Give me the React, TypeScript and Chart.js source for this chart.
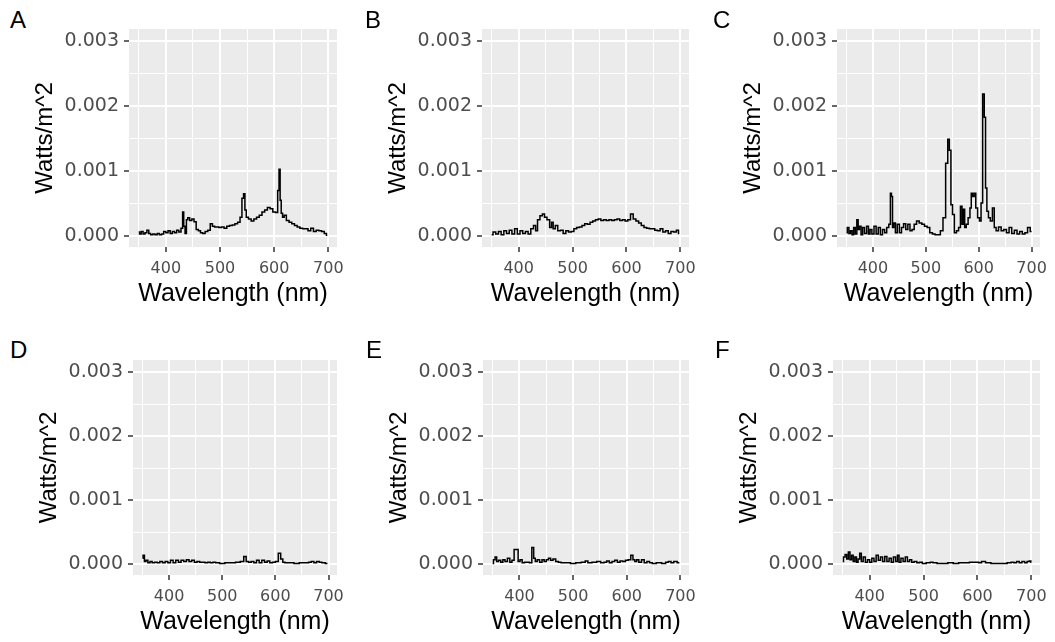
import React, { useEffect, useRef } from "react";
import { Chart, registerables } from "chart.js";

Chart.register(...registerables);

// ---------- data ----------
const WL_TICKS = [350, 400, 450, 500, 550, 600, 650, 700];
const WL_LABELED = [400, 500, 600, 700];
const W_TICKS = [0, 0.0005, 0.001, 0.0015, 0.002, 0.0025, 0.003];
const W_LABELED = [0, 0.001, 0.002, 0.003];
const PANEL_LABELS = ["A", "B", "C", "D", "E", "F"];
const X_TITLE = "Wavelength (nm)";
const Y_TITLE = "Watts/m^2";

// [wavelength nm, irradiance W/m^2]
const spectrumA: [number, number][] = [
  [350, 6e-5], [353, 3e-5], [356, 7e-5], [360, 3e-5], [363, 5e-5], [367, 9e-5], [370, 4e-5], [374, 2e-5],
  [378, 3e-5], [382, 2e-5], [386, 4e-5], [390, 2e-5], [394, 3e-5], [398, 7e-5], [402, 5e-5], [406, 8e-5],
  [410, 4e-5], [414, 7e-5], [418, 5e-5], [422, 9e-5], [426, 6e-5], [430, 1.2e-4], [432, 3.7e-4], [434, 1.5e-4],
  [437, 4e-5], [439, 2.5e-4], [442, 2.8e-4], [446, 2.4e-4], [450, 2.6e-4], [454, 2.2e-4], [458, 1.0e-4], [462, 8e-5],
  [466, 5e-5], [470, 4e-5], [475, 7e-5], [480, 9e-5], [484, 1.9e-4], [488, 1.5e-4], [492, 1.4e-4], [496, 1.4e-4],
  [500, 1.3e-4], [505, 1.4e-4], [510, 1.2e-4], [515, 1.5e-4], [520, 1.6e-4], [525, 1.7e-4], [530, 1.9e-4], [535, 2.1e-4],
  [539, 2.9e-4], [542, 5.8e-4], [545, 6.5e-4], [547, 4.0e-4], [550, 2.9e-4], [555, 2.6e-4], [560, 2.3e-4], [565, 2.6e-4],
  [570, 2.9e-4], [575, 3.2e-4], [580, 3.7e-4], [585, 4.0e-4], [590, 4.4e-4], [595, 4.2e-4], [600, 3.7e-4], [605, 3.6e-4],
  [608, 7.0e-4], [610, 1.03e-3], [612, 5.5e-4], [614, 3.5e-4], [617, 2.9e-4], [620, 3.2e-4], [625, 2.4e-4], [630, 2.1e-4],
  [635, 1.9e-4], [640, 1.6e-4], [645, 1.4e-4], [650, 1.2e-4], [655, 1.1e-4], [660, 1.1e-4], [665, 8e-5], [670, 1.2e-4],
  [675, 7e-5], [680, 9e-5], [685, 8e-5], [690, 7e-5], [695, 4e-5], [698, 1e-5],
];

const spectrumB: [number, number][] = [
  [350, 2e-5], [355, 6e-5], [360, 3e-5], [365, 7e-5], [370, 2e-5], [375, 8e-5], [380, 4e-5], [385, 9e-5],
  [390, 3e-5], [395, 1.1e-4], [400, 3e-5], [405, 8e-5], [410, 4e-5], [415, 7e-5], [420, 3e-5], [425, 1.1e-4],
  [430, 1.6e-4], [433, 8e-5], [437, 2.5e-4], [442, 3.1e-4], [446, 3.4e-4], [450, 2.9e-4], [455, 2.5e-4], [460, 1.3e-4],
  [462, 2.1e-4], [466, 1.1e-4], [470, 1.6e-4], [475, 8e-5], [480, 9e-5], [485, 4e-5], [490, 8e-5], [495, 6e-5],
  [500, 7e-5], [505, 1.1e-4], [510, 1.3e-4], [515, 1.4e-4], [520, 1.6e-4], [525, 1.9e-4], [530, 1.8e-4], [535, 2.1e-4],
  [540, 2.3e-4], [545, 2.5e-4], [550, 2.6e-4], [555, 2.4e-4], [560, 2.5e-4], [565, 2.4e-4], [570, 2.5e-4], [575, 2.4e-4],
  [580, 2.5e-4], [585, 2.6e-4], [590, 2.4e-4], [595, 2.5e-4], [600, 2.3e-4], [605, 2.5e-4], [610, 3.4e-4], [615, 2.6e-4],
  [620, 2.3e-4], [625, 2.0e-4], [630, 1.6e-4], [635, 1.3e-4], [640, 1.2e-4], [645, 1.1e-4], [650, 1.1e-4], [655, 9e-5],
  [660, 8e-5], [665, 1.1e-4], [670, 6e-5], [675, 8e-5], [680, 4e-5], [685, 7e-5], [690, 6e-5], [695, 9e-5], [698, 4e-5],
];

const spectrumC: [number, number][] = [
  [350, 5e-5], [353, 1.3e-4], [356, 4e-5], [359, 8e-5], [362, 2e-5], [365, 1.3e-4], [368, 3e-5], [371, 2.5e-4],
  [373, 1e-4], [376, 1.5e-4], [379, 2e-5], [382, 1.3e-4], [386, 4e-5], [390, 1.5e-4], [393, 3e-5], [396, 1e-4],
  [400, 3e-5], [404, 1.5e-4], [408, 3e-5], [412, 1.3e-4], [416, 2e-5], [420, 1e-4], [424, 5e-5], [428, 1.3e-4],
  [432, 1.8e-4], [434, 6.6e-4], [436, 6.1e-4], [438, 1.3e-4], [441, 2e-4], [444, 5e-5], [448, 1.8e-4], [452, 5e-5],
  [456, 1.3e-4], [460, 1.9e-4], [464, 1e-4], [468, 1.8e-4], [472, 8e-5], [476, 1e-4], [480, 1.8e-4], [485, 2.3e-4],
  [490, 2e-4], [495, 1.8e-4], [500, 1.5e-4], [505, 1.3e-4], [510, 5e-5], [515, 3e-5], [520, 2e-5], [525, 2e-5],
  [530, 8e-5], [535, 2.8e-4], [540, 1.12e-3], [543, 1.49e-3], [546, 1.32e-3], [549, 4.8e-4], [552, 3.3e-4], [556, 5e-5],
  [560, 8e-5], [564, 1.3e-4], [567, 4.6e-4], [570, 1.8e-4], [572, 4.1e-4], [575, 1.3e-4], [578, 1.8e-4], [582, 2.8e-4],
  [585, 4.3e-4], [587, 6.6e-4], [590, 6.1e-4], [593, 6.6e-4], [596, 4.3e-4], [600, 2.8e-4], [603, 2.3e-4], [606, 5.1e-4],
  [609, 2.19e-3], [612, 1.83e-3], [614, 7.4e-4], [617, 3.8e-4], [620, 2.8e-4], [624, 2.3e-4], [628, 4.3e-4], [631, 1.3e-4],
  [635, 8e-5], [640, 1.4e-4], [645, 8e-5], [650, 1e-4], [655, 5e-5], [660, 1.3e-4], [665, 4e-5], [670, 9e-5],
  [675, 3e-5], [680, 7e-5], [685, 3e-5], [690, 5e-5], [695, 1.3e-4], [700, 7e-5],
];

const spectrumD: [number, number][] = [
  [350, 9e-5], [352, 1.4e-4], [355, 4e-5], [358, 6e-5], [362, 2e-5], [366, 4e-5], [370, 2e-5], [375, 3e-5],
  [380, 2e-5], [385, 4e-5], [390, 2e-5], [395, 4e-5], [400, 2e-5], [405, 6e-5], [410, 2e-5], [415, 6e-5],
  [420, 3e-5], [425, 6e-5], [430, 4e-5], [435, 7e-5], [440, 4e-5], [445, 6e-5], [450, 3e-5], [455, 4e-5],
  [460, 3e-5], [465, 3e-5], [470, 2e-5], [475, 3e-5], [480, 2e-5], [485, 3e-5], [490, 2e-5], [500, 1e-5],
  [510, 2e-5], [520, 2e-5], [530, 3e-5], [538, 4e-5], [543, 1.2e-4], [547, 4e-5], [552, 3e-5], [557, 4e-5],
  [562, 2e-5], [567, 6e-5], [572, 2e-5], [577, 6e-5], [582, 3e-5], [587, 5e-5], [592, 2e-5], [597, 3e-5],
  [603, 4e-5], [608, 1.7e-4], [612, 8e-5], [616, 3e-5], [620, 2e-5], [630, 2e-5], [640, 1e-5], [650, 2e-5],
  [660, 2e-5], [665, 3e-5], [670, 4e-5], [675, 2e-5], [680, 4e-5], [685, 3e-5], [690, 2e-5], [698, 1e-5],
];

const spectrumE: [number, number][] = [
  [350, 1e-5], [353, 7e-5], [356, 1.1e-4], [359, 4e-5], [363, 6e-5], [367, 3e-5], [371, 7e-5], [375, 4e-5],
  [380, 9e-5], [384, 3e-5], [388, 6e-5], [392, 2.3e-4], [396, 2.3e-4], [399, 4e-5], [403, 7e-5], [407, 2e-5],
  [412, 3e-5], [416, 3e-5], [421, 2e-5], [425, 2.6e-4], [428, 9e-5], [431, 4e-5], [435, 7e-5], [440, 3e-5],
  [444, 7e-5], [448, 4e-5], [452, 7e-5], [456, 9e-5], [460, 6e-5], [465, 8e-5], [470, 4e-5], [475, 3e-5],
  [480, 2e-5], [490, 2e-5], [500, 1e-5], [510, 2e-5], [520, 3e-5], [525, 5e-5], [530, 2e-5], [540, 3e-5],
  [548, 4e-5], [555, 2e-5], [560, 3e-5], [565, 5e-5], [570, 2e-5], [575, 4e-5], [580, 6e-5], [585, 3e-5],
  [590, 5e-5], [595, 4e-5], [600, 6e-5], [605, 7e-5], [610, 1.4e-4], [613, 7e-5], [617, 4e-5], [620, 7e-5],
  [625, 3e-5], [630, 7e-5], [635, 2e-5], [640, 4e-5], [645, 2e-5], [650, 1e-5], [660, 2e-5], [670, 1e-5],
  [675, 3e-5], [680, 4e-5], [685, 2e-5], [690, 4e-5], [698, 2e-5],
];

const spectrumF: [number, number][] = [
  [350, 4e-5], [353, 1.1e-4], [356, 1.5e-4], [359, 8e-5], [362, 1.9e-4], [365, 7e-5], [368, 1.4e-4], [371, 4e-5],
  [374, 1.1e-4], [377, 3e-5], [380, 8e-5], [383, 1.7e-4], [386, 4e-5], [390, 1.1e-4], [394, 3e-5], [398, 7e-5],
  [402, 3e-5], [406, 9e-5], [410, 4e-5], [414, 1.4e-4], [418, 6e-5], [422, 1.1e-4], [426, 4e-5], [430, 1.2e-4],
  [434, 4e-5], [438, 9e-5], [442, 3e-5], [446, 1.1e-4], [450, 4e-5], [453, 1.4e-4], [456, 3e-5], [460, 9e-5],
  [464, 4e-5], [468, 1.1e-4], [472, 4e-5], [476, 7e-5], [480, 3e-5], [485, 4e-5], [490, 2e-5], [495, 3e-5],
  [500, 1e-5], [510, 2e-5], [515, 3e-5], [520, 2e-5], [530, 1e-5], [540, 1e-5], [550, 2e-5], [560, 1e-5],
  [570, 2e-5], [580, 2e-5], [590, 3e-5], [600, 3e-5], [605, 2e-5], [610, 4e-5], [620, 2e-5], [630, 1e-5],
  [640, 1e-5], [650, 1e-5], [660, 2e-5], [665, 3e-5], [670, 2e-5], [675, 4e-5], [680, 2e-5], [685, 4e-5],
  [690, 2e-5], [694, 4e-5], [698, 5e-5], [700, 3e-5],
];

const SPECTRA = [spectrumA, spectrumB, spectrumC, spectrumD, spectrumE, spectrumF];

// ---------- layout / style ----------
const X_MIN = 332;
const X_MAX = 716;
const Y_MIN = -0.00017;
const Y_MAX = 0.00319;

// plot-area rectangles of each panel (px)
const AREAS = [
  { l: 129, r: 337, t: 29, b: 247 },
  { l: 482, r: 689, t: 29, b: 247 },
  { l: 837, r: 1040, t: 29, b: 247 },
  { l: 133, r: 337, t: 360, b: 575 },
  { l: 483, r: 689, t: 360, b: 575 },
  { l: 833, r: 1040, t: 360, b: 575 },
];
const LABEL_POS = [
  { x: 10, y: 12 },
  { x: 365, y: 12 },
  { x: 713, y: 12 },
  { x: 10, y: 342 },
  { x: 366, y: 342 },
  { x: 715, y: 342 },
];

const Y_AXIS_W = 98;
const X_AXIS_H = 62;
const PAD_T = 20;
const PAD_R = 20;

const TICK_FONT = "'DejaVu Sans', 'Liberation Sans', sans-serif";
const TITLE_FONT = "'Liberation Sans', Arial, sans-serif";

const near = (list: number[], v: number, eps: number) => list.some((m) => Math.abs(m - v) < eps);

const bgPlugin = {
  id: "panelBg",
  beforeDraw(chart: any) {
    const { ctx, chartArea: a } = chart;
    ctx.save();
    ctx.fillStyle = "#EBEBEB";
    ctx.fillRect(a.left, a.top, a.right - a.left, a.bottom - a.top);
    ctx.restore();
  },
};

function Panel({ idx }: { idx: number }) {
  const ref = useRef<HTMLCanvasElement>(null);
  const area = AREAS[idx];
  const left = area.l - Y_AXIS_W;
  const top = area.t - PAD_T;
  const w = area.r - area.l + Y_AXIS_W + PAD_R;
  const h = area.b - area.t + PAD_T + X_AXIS_H;

  useEffect(() => {
    if (!ref.current) return;
    const data = SPECTRA[idx].map(([x, y]) => ({ x, y }));
    const chart = new Chart(ref.current, {
      type: "line",
      data: {
        datasets: [
          {
            data,
            borderColor: "#000000",
            borderWidth: 1.5,
            pointRadius: 0,
            tension: 0,
            stepped: "middle",
            fill: false,
          },
        ],
      },
      options: {
        animation: false,
        responsive: false,
        devicePixelRatio: 1,
        layout: { padding: { top: PAD_T, right: PAD_R, left: 0, bottom: 0 } },
        plugins: { legend: { display: false }, tooltip: { enabled: false }, title: { display: false } },
        scales: {
          x: {
            type: "linear",
            min: X_MIN,
            max: X_MAX,
            afterBuildTicks: (scale: any) => {
              scale.ticks = WL_TICKS.map((v) => ({ value: v }));
            },
            afterFit: (scale: any) => {
              scale.height = X_AXIS_H;
            },
            border: { display: false },
            grid: {
              color: "#FFFFFF",
              lineWidth: (c: any) => (near(WL_LABELED, c.tick?.value, 0.01) ? 2 : 1),
              tickColor: (c: any) => (near(WL_LABELED, c.tick?.value, 0.01) ? "#333333" : "rgba(0,0,0,0)"),
              tickLength: 5,
              tickWidth: 1.5,
            },
            ticks: {
              autoSkip: false,
              maxRotation: 0,
              minRotation: 0,
              padding: 7,
              color: "#4D4D4D",
              font: { family: TICK_FONT, size: 16 },
              callback: (v: any) => (near(WL_LABELED, Number(v), 0.01) ? String(v) : ""),
            },
            title: {
              display: true,
              text: X_TITLE,
              color: "#000000",
              font: { family: TITLE_FONT, size: 25 },
              padding: 0,
            },
          },
          y: {
            type: "linear",
            min: Y_MIN,
            max: Y_MAX,
            afterBuildTicks: (scale: any) => {
              scale.ticks = W_TICKS.map((v) => ({ value: v }));
            },
            afterFit: (scale: any) => {
              scale.width = Y_AXIS_W;
            },
            border: { display: false },
            grid: {
              color: "#FFFFFF",
              lineWidth: (c: any) => (near(W_LABELED, c.tick?.value, 1e-7) ? 2 : 1),
              tickColor: (c: any) => (near(W_LABELED, c.tick?.value, 1e-7) ? "#333333" : "rgba(0,0,0,0)"),
              tickLength: 5,
              tickWidth: 1.5,
            },
            ticks: {
              autoSkip: false,
              padding: 5,
              color: "#4D4D4D",
              font: { family: TICK_FONT, size: 19 },
              callback: (v: any) => (near(W_LABELED, Number(v), 1e-7) ? Number(v).toFixed(3) : ""),
            },
            title: {
              display: true,
              text: Y_TITLE,
              color: "#000000",
              font: { family: TITLE_FONT, size: 24 },
              padding: 0,
            },
          },
        },
      },
      plugins: [bgPlugin],
    } as any);
    return () => chart.destroy();
  }, [idx]);

  return (
    <canvas
      ref={ref}
      width={w}
      height={h}
      style={{ position: "absolute", left, top, width: w, height: h }}
    />
  );
}

export default function App() {
  return (
    <div
      style={{
        position: "fixed",
        left: 0,
        top: 0,
        width: 1055,
        height: 642,
        background: "#FFFFFF",
        overflow: "hidden",
      }}
    >
      {PANEL_LABELS.map((lab, i) => (
        <Panel key={lab} idx={i} />
      ))}
      {PANEL_LABELS.map((lab, i) => (
        <div
          key={"lab" + lab}
          style={{
            position: "absolute",
            left: LABEL_POS[i].x,
            top: LABEL_POS[i].y - 4,
            fontFamily: TITLE_FONT,
            fontSize: 24,
            lineHeight: "24px",
            color: "#000000",
          }}
        >
          {lab}
        </div>
      ))}
    </div>
  );
}
